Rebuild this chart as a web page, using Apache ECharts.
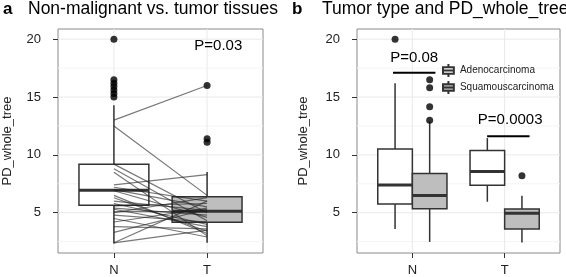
<!DOCTYPE html>
<html lang="en">
<head>
<meta charset="UTF-8">
<title>PD_whole_tree</title>
<style>
    * { margin: 0; padding: 0; }
    #chart { width: 566px; height: 277px; background: #fff; }
</style>
<script src="https://cdn.jsdelivr.net/npm/echarts@6/dist/echarts.min.js"></script>
</head>
<body>
<div id="chart"></div>
<script>
// categories
var cats = ['N', 'T'];
var types = ['Adenocarcinoma', 'Squamouscarcinoma'];

// panel a: box stats per category [low, q1, median, q3, high]
var boxTissue = [[2.35, 5.64, 6.94, 9.2, 14.3], [2.4, 4.17, 5.12, 6.39, 8.53]];
var outN = [20.0, 16.5, 16.2, 15.9, 15.6, 15.3, 15.0];
var outT = [16.0, 11.4, 11.1];
// paired samples, N value -> T value
var pairN = [13.0, 12.5, 9.2, 8.8, 8.5, 7.4, 7.2, 7.0, 6.9, 6.5, 6.3, 6.0, 5.8, 5.6, 5.4, 5.3, 5.1, 5.0, 4.8, 4.5, 4.2, 3.8, 3.3, 2.4, 2.4];
var pairT = [16.0, 6.5, 5.0, 4.3, 3.0, 8.3, 6.0, 5.5, 4.6, 3.2, 3.4, 5.2, 4.0, 5.8, 4.8, 3.8, 5.1, 6.3, 4.2, 2.9, 5.4, 3.6, 5.3, 6.0, 3.5];

// panel b: box stats per category for each tumor type
var boxAdeno = [[3.6, 5.75, 7.4, 10.5, 16.2], [5.95, 7.37, 8.56, 10.38, 11.45]];
var boxSquam = [[2.48, 5.35, 6.5, 8.4, 12.9], [2.43, 3.59, 4.95, 5.32, 6.47]];
var outAdeno = [[20.0], []];
var outSquam = [[16.5, 15.8, 14.15, 13.0], [8.2]];

var pTexts = ['P=0.03', 'P=0.08', 'P=0.0003'];

// axis ticks and gridlines
var yTicks = [5, 10, 15, 20];
var yMinor = [2.5, 7.5, 12.5, 17.5];

var FONT = 'Liberation Sans, Arial, sans-serif';
var Y_MIN = 1.52, Y_MAX = 20.88;

var chart = echarts.init(document.getElementById('chart'));

function boxRender(width, fill) {
    return function (params, api) {
        var x = api.value(0);
        var hw = api.size([width, 0])[0] / 2;
        var pLow = api.coord([x, api.value(1)]);
        var pQ1 = api.coord([x, api.value(2)]);
        var pMed = api.coord([x, api.value(3)]);
        var pQ3 = api.coord([x, api.value(4)]);
        var pHigh = api.coord([x, api.value(5)]);
        var ln = { stroke: '#333', lineWidth: 1.5 };
        return {
            type: 'group',
            children: [
                { type: 'line', shape: { x1: pHigh[0], y1: pHigh[1], x2: pQ3[0], y2: pQ3[1] }, style: ln },
                { type: 'line', shape: { x1: pQ1[0], y1: pQ1[1], x2: pLow[0], y2: pLow[1] }, style: ln },
                { type: 'rect', shape: { x: pQ3[0] - hw, y: pQ3[1], width: hw * 2, height: pQ1[1] - pQ3[1] },
                  style: { fill: fill, stroke: '#333', lineWidth: 1.5 } },
                { type: 'line', shape: { x1: pMed[0] - hw, y1: pMed[1], x2: pMed[0] + hw, y2: pMed[1] },
                  style: { stroke: '#333', lineWidth: 3 } }
            ]
        };
    };
}

function boxData(stats, offset) {
    return stats.map(function (s, i) { return [i + 1 + offset].concat(s); });
}

function outData(list, offset) {
    var res = [];
    list.forEach(function (vals, i) {
        vals.forEach(function (v) { res.push([i + 1 + offset, v]); });
    });
    return res;
}

// panel gridlines: [orientation, value, major]
function gridLines(gi) {
    var d = [];
    yMinor.forEach(function (v) { d.push([0, v, 0]); });
    yTicks.forEach(function (v) { d.push([0, v, 1]); });
    cats.forEach(function (c, i) { d.push([1, i + 1, 1]); });
    return {
        type: 'custom', xAxisIndex: gi, yAxisIndex: gi, z: 0, silent: true,
        data: d,
        renderItem: function (params, api) {
            var cs = params.coordSys;
            var vert = api.value(0) === 1;
            var col = api.value(2) ? '#e9e9e9' : '#f4f4f4';
            var shape;
            if (vert) {
                var px = api.coord([api.value(1), Y_MIN])[0];
                shape = { x1: px, y1: cs.y, x2: px, y2: cs.y + cs.height };
            } else {
                var py = api.coord([1, api.value(1)])[1];
                shape = { x1: cs.x, y1: py, x2: cs.x + cs.width, y2: py };
            }
            return { type: 'line', shape: shape, style: { stroke: col, lineWidth: 1 } };
        }
    };
}

function textItem(gi, x, y, txt) {
    return {
        type: 'custom', xAxisIndex: gi, yAxisIndex: gi, z: 5, silent: true,
        data: [[x, y]],
        renderItem: function (params, api) {
            var p = api.coord([api.value(0), api.value(1)]);
            return { type: 'text', x: p[0], y: p[1],
                style: { text: txt, font: '15px ' + FONT, fill: '#000', align: 'center', verticalAlign: 'middle' } };
        }
    };
}

function barItem(gi, x1, x2, y) {
    return {
        type: 'custom', xAxisIndex: gi, yAxisIndex: gi, z: 5, silent: true,
        data: [[x1, x2, y]],
        renderItem: function (params, api) {
            var a = api.coord([api.value(0), api.value(2)]);
            var b = api.coord([api.value(1), api.value(2)]);
            return { type: 'line', shape: { x1: a[0], y1: a[1], x2: b[0], y2: b[1] },
                style: { stroke: '#000', lineWidth: 2 } };
        }
    };
}

function xAxisOf(gi) {
    return {
        type: 'value', gridIndex: gi, min: 0.4, max: 2.6,
        axisLine: { show: false },
        splitLine: { show: false },
        axisTick: { show: true, customValues: [1, 2], length: 5, lineStyle: { color: '#333', width: 1 } },
        axisLabel: { customValues: [1, 2], margin: 11, fontSize: 13, color: '#222', fontFamily: FONT,
            formatter: function (v) { return cats[Math.round(v) - 1]; } }
    };
}

function yAxisOf(gi, gap) {
    return {
        type: 'value', gridIndex: gi, min: Y_MIN, max: Y_MAX,
        name: 'PD_whole_tree', nameLocation: 'middle', nameGap: gap, nameRotate: 90,
        nameTextStyle: { fontSize: 13, color: '#222', fontFamily: FONT },
        axisLine: { show: false },
        splitLine: { show: false },
        axisTick: { show: true, customValues: yTicks, length: 5, lineStyle: { color: '#333', width: 1 } },
        axisLabel: { customValues: yTicks, margin: 17, fontSize: 13, color: '#222', fontFamily: FONT }
    };
}

var boxIcon = 'path://M5,0 L5,3 M0,3 L10,3 L10,9 L0,9 Z M0,6 L10,6 M5,9 L5,12';

var option = {
    animation: false,
    title: [
        { text: '{b|a}{t|Non-malignant vs. tumor tissues}', left: 3, top: 0, padding: 0,
          textStyle: { color: '#000', fontFamily: FONT,
              rich: { b: { fontSize: 17, fontWeight: 'bold', width: 25, fontFamily: FONT },
                      t: { fontSize: 17.5, fontWeight: 'normal', fontFamily: FONT } } } },
        { text: '{b|b}{t|Tumor type and PD_whole_tree}', left: 292, top: 0, padding: 0,
          textStyle: { color: '#000', fontFamily: FONT,
              rich: { b: { fontSize: 17, fontWeight: 'bold', width: 30, fontFamily: FONT },
                      t: { fontSize: 17.5, fontWeight: 'normal', fontFamily: FONT } } } }
    ],
    legend: {
        data: [{ name: types[0], icon: boxIcon }, { name: types[1], icon: boxIcon }],
        orient: 'vertical', left: 442, top: 63, itemWidth: 13, itemHeight: 13, itemGap: 2,
        padding: 0,
        textStyle: { fontSize: 10, color: '#222', fontFamily: FONT }
    },
    grid: [
        { left: 58, top: 29, width: 205, height: 224, show: true, backgroundColor: '#fff', borderColor: '#8a8a8a', borderWidth: 1 },
        { left: 357, top: 29, width: 203, height: 224, show: true, backgroundColor: '#fff', borderColor: '#8a8a8a', borderWidth: 1 }
    ],
    xAxis: [xAxisOf(0), xAxisOf(1)],
    yAxis: [yAxisOf(0, 44), yAxisOf(1, 47)],
    series: [
        gridLines(0),
        gridLines(1),
        // panel a boxes
        { type: 'custom', name: 'tissue-N', xAxisIndex: 0, yAxisIndex: 0, z: 2,
          renderItem: boxRender(0.75, '#fff'), data: boxData([boxTissue[0]], 0) },
        { type: 'custom', name: 'tissue-T', xAxisIndex: 0, yAxisIndex: 0, z: 2,
          renderItem: boxRender(0.75, '#bebebe'), data: boxData([boxTissue[1]], 1) },
        // panel a outliers
        { type: 'scatter', xAxisIndex: 0, yAxisIndex: 0, z: 3, symbolSize: 7, itemStyle: { color: '#000' },
          data: outData([outN, outT], 0) },
        // panel a paired lines
        { type: 'custom', xAxisIndex: 0, yAxisIndex: 0, z: 4, silent: true,
          data: pairN.map(function (v, i) { return [v, pairT[i]]; }),
          renderItem: function (params, api) {
              var a = api.coord([1, api.value(0)]);
              var b = api.coord([2, api.value(1)]);
              return { type: 'line', shape: { x1: a[0], y1: a[1], x2: b[0], y2: b[1] },
                  style: { stroke: 'rgba(30,30,30,0.6)', lineWidth: 1.2 } };
          } },
        textItem(0, 2.12, 19.4, pTexts[0]),
        // panel b boxes
        { type: 'custom', name: types[0], xAxisIndex: 1, yAxisIndex: 1, z: 2,
          itemStyle: { color: '#fff', borderColor: '#333', borderWidth: 1 },
          renderItem: boxRender(0.375, '#fff'), data: boxData(boxAdeno, -0.1875) },
        { type: 'custom', name: types[1], xAxisIndex: 1, yAxisIndex: 1, z: 2,
          itemStyle: { color: '#bebebe', borderColor: '#333', borderWidth: 1 },
          renderItem: boxRender(0.375, '#bebebe'), data: boxData(boxSquam, 0.1875) },
        { type: 'scatter', xAxisIndex: 1, yAxisIndex: 1, z: 3, symbolSize: 7, itemStyle: { color: '#000' },
          data: outData(outAdeno, -0.1875).concat(outData(outSquam, 0.1875)) },
        barItem(1, 0.79, 1.25, 17.1),
        textItem(1, 1.02, 18.4, pTexts[1]),
        barItem(1, 1.81, 2.27, 11.6),
        textItem(1, 2.06, 13.0, pTexts[2])
    ]
};

chart.setOption(option);
</script>
</body>
</html>
